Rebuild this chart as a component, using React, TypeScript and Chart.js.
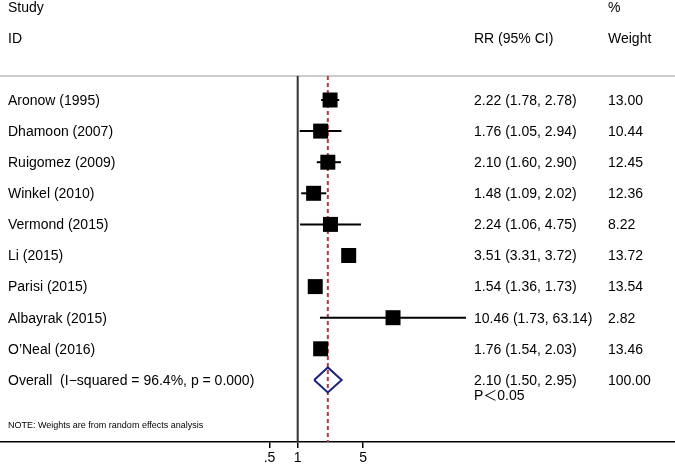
import React, { useEffect, useRef } from 'react';
import { Chart, registerables } from 'chart.js';

Chart.register(...registerables);

// ---- data ----
const studies = [
  'Aronow (1995)',
  'Dhamoon (2007)',
  'Ruigomez (2009)',
  'Winkel (2010)',
  'Vermond (2015)',
  'Li (2015)',
  'Parisi (2015)',
  'Albayrak (2015)',
  'O’Neal (2016)',
];
const rr = [2.22, 1.76, 2.1, 1.48, 2.24, 3.51, 1.54, 10.46, 1.76];
const lower = [1.78, 1.05, 1.6, 1.09, 1.06, 3.31, 1.36, 1.73, 1.54];
const upper = [2.78, 2.94, 2.9, 2.02, 4.75, 3.72, 1.73, 63.14, 2.03];
const weights = [13.0, 10.44, 12.45, 12.36, 8.22, 13.72, 13.54, 2.82, 13.46];

const overallLabel = 'Overall  (I−squared = 96.4%, p = 0.000)';
const overallRR = 2.1;
const overallLower = 1.5;
const overallUpper = 2.95;
const overallWeight = 100.0;
const pText = 'P＜0.05';
const noteText = 'NOTE: Weights are from random effects analysis';

const headerStudy = ['Study', 'ID'];
const headerCI = 'RR (95% CI)';
const headerWeight = ['%', 'Weight'];

const tickValues = [0.5, 1, 5];
const tickLabels = ['.5', '1', '5'];

// ---- layout ----
const W = 675;
const H = 464;
const PX_PER_DECADE = 93.5;
const X_ONE = 297.7;
const X_MIN = Math.pow(10, -X_ONE / PX_PER_DECADE);
const X_MAX = Math.pow(10, (W - X_ONE) / PX_PER_DECADE);
const ROW_H = 31.1;
const ROW0 = 100;
const AXIS_Y = 442;
const Y_MIN = -ROW0 / ROW_H;
const Y_MAX = (AXIS_Y - ROW0) / ROW_H;
const TOP_RULE = (76 - ROW0) / ROW_H;
const OVERALL_ROW = studies.length;
const FONT = '"Liberation Sans", Arial, Helvetica, "Noto Sans CJK SC", sans-serif';

const COL_STUDY = 8;
const COL_CI = 474;
const COL_W = 608;
const TEXT_DY = 1;

const fmt = (v: number) => v.toFixed(2);

export default function App() {
  const ref = useRef<HTMLCanvasElement | null>(null);

  useEffect(() => {
    const canvas = ref.current;
    if (!canvas) return;

    const textPlugin = {
      id: 'forestText',
      beforeDatasetsDraw(chart: any) {
        const ctx = chart.ctx;
        const y = chart.scales.y;
        ctx.save();
        ctx.strokeStyle = '#cccccc';
        ctx.lineWidth = 2;
        const yy = Math.round(y.getPixelForValue(TOP_RULE));
        ctx.beginPath();
        ctx.moveTo(0, yy);
        ctx.lineTo(chart.width, yy);
        ctx.stroke();
        ctx.restore();
      },
      afterDraw(chart: any) {
        const ctx = chart.ctx;
        const y = chart.scales.y;
        ctx.save();
        ctx.fillStyle = '#000';
        ctx.textBaseline = 'middle';
        ctx.textAlign = 'left';
        ctx.font = `14px ${FONT}`;
        const py = (r: number) => y.getPixelForValue(r) + TEXT_DY;
        ctx.fillText(headerStudy[0], COL_STUDY, py(-3));
        ctx.fillText(headerStudy[1], COL_STUDY, py(-2));
        ctx.fillText(headerCI, COL_CI, py(-2));
        ctx.fillText(headerWeight[0], COL_W, py(-3));
        ctx.fillText(headerWeight[1], COL_W, py(-2));
        studies.forEach((s, i) => {
          ctx.fillText(s, COL_STUDY, py(i));
          ctx.fillText(`${fmt(rr[i])} (${fmt(lower[i])}, ${fmt(upper[i])})`, COL_CI, py(i));
          ctx.fillText(fmt(weights[i]), COL_W, py(i));
        });
        ctx.fillText(overallLabel, COL_STUDY, py(OVERALL_ROW));
        ctx.fillText(
          `${fmt(overallRR)} (${fmt(overallLower)}, ${fmt(overallUpper)})`,
          COL_CI,
          py(OVERALL_ROW)
        );
        ctx.fillText(fmt(overallWeight), COL_W, py(OVERALL_ROW));
        ctx.fillText(pText, COL_CI, py(OVERALL_ROW + 0.5));
        ctx.font = `9px ${FONT}`;
        ctx.fillText(noteText, COL_STUDY, py(OVERALL_ROW + 1.45));
        ctx.restore();
      },
    };

    const ciSets = studies.map((_, i) => ({
      data: [
        { x: lower[i], y: i },
        { x: upper[i], y: i },
      ],
      showLine: true,
      borderColor: '#000',
      borderWidth: 2,
      pointRadius: 0,
    }));

    const diamondH = 12.5 / ROW_H;
    const chart = new Chart(canvas, {
      type: 'scatter',
      data: {
        datasets: [
          {
            data: rr.map((v, i) => ({ x: v, y: i })),
            pointStyle: 'rect',
            pointRadius: 10.6,
            backgroundColor: '#000',
            borderWidth: 0,
          } as any,
          {
            data: [
              { x: overallLower, y: OVERALL_ROW },
              { x: overallRR, y: OVERALL_ROW - diamondH },
              { x: overallUpper, y: OVERALL_ROW },
              { x: overallRR, y: OVERALL_ROW + diamondH },
              { x: overallLower, y: OVERALL_ROW },
            ],
            showLine: true,
            borderColor: '#1a237a',
            borderWidth: 2,
            pointRadius: 0,
            tension: 0,
          },
          ...ciSets,
          {
            data: [
              { x: overallRR, y: TOP_RULE },
              { x: overallRR, y: Y_MAX },
            ],
            showLine: true,
            borderColor: '#b03a48',
            borderWidth: 2,
            borderDash: [4, 3],
            pointRadius: 0,
          },
          {
            data: [
              { x: 1, y: TOP_RULE },
              { x: 1, y: Y_MAX },
            ],
            showLine: true,
            borderColor: '#333',
            borderWidth: 2,
            pointRadius: 0,
          },
        ],
      },
      options: {
        animation: false,
        responsive: false,
        events: [],
        layout: { padding: 0, autoPadding: false },
        plugins: {
          legend: { display: false },
          tooltip: { enabled: false },
        },
        scales: {
          x: {
            type: 'logarithmic',
            min: X_MIN,
            max: X_MAX,
            afterBuildTicks: (scale: any) => {
              scale.ticks = tickValues.map((v) => ({ value: v }));
            },
            afterFit: (scale: any) => {
              scale.height = H - AXIS_Y;
            },
            ticks: {
              autoSkip: false,
              maxRotation: 0,
              padding: 2,
              color: '#000',
              font: { size: 14, family: FONT },
              callback: (value: any) => {
                const idx = tickValues.indexOf(Number(value));
                return idx >= 0 ? tickLabels[idx] : '';
              },
            },
            grid: {
              drawOnChartArea: false,
              drawTicks: true,
              tickLength: 6,
              color: '#000',
              lineWidth: 1.5,
            },
            border: { display: true, color: '#000', width: 1.5 },
          },
          y: {
            type: 'linear',
            display: false,
            reverse: true,
            min: Y_MIN,
            max: Y_MAX,
          },
        },
      } as any,
      plugins: [textPlugin],
    });

    return () => chart.destroy();
  }, []);

  return (
    <div style={{ position: 'absolute', left: 0, top: 0, width: W, height: H, background: '#fff' }}>
      <canvas ref={ref} width={W} height={H} style={{ width: W, height: H, display: 'block' }} />
    </div>
  );
}
